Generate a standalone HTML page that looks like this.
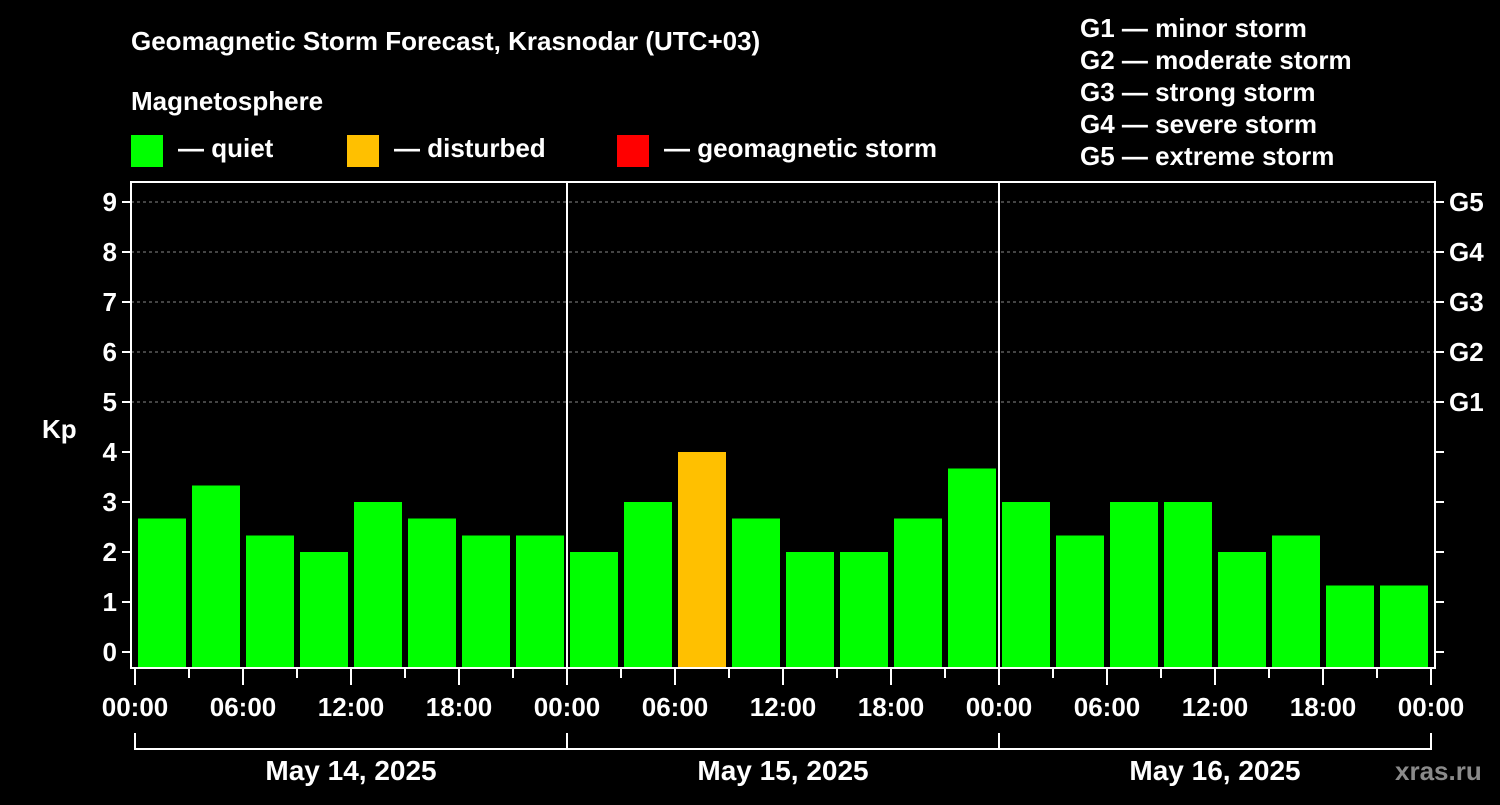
<!DOCTYPE html>
<html><head><meta charset="utf-8"><style>
body{margin:0;background:#000;width:1500px;height:800px;overflow:hidden}
svg text{font-family:"Liberation Sans",Arial,sans-serif;font-weight:bold;fill:#fff}
</style></head><body>
<svg id="chart" width="1500" height="800" xmlns="http://www.w3.org/2000/svg">
<text x="131" y="50" font-size="26">Geomagnetic Storm Forecast, Krasnodar (UTC+03)</text>
<text x="131" y="110" font-size="26">Magnetosphere</text>
<g><rect x="131" y="135" width="32" height="32" fill="#00ff00"/><text x="178" y="157" font-size="26">— quiet</text></g>
<g><rect x="347" y="135" width="32" height="32" fill="#ffc000"/><text x="394" y="157" font-size="26">— disturbed</text></g>
<g><rect x="617" y="135" width="32" height="32" fill="#ff0000"/><text x="664" y="157" font-size="26">— geomagnetic storm</text></g>
<g font-size="26">
<text x="1080" y="37">G1 — minor storm</text>
<text x="1080" y="69">G2 — moderate storm</text>
<text x="1080" y="101">G3 — strong storm</text>
<text x="1080" y="133">G4 — severe storm</text>
<text x="1080" y="165">G5 — extreme storm</text>
</g>
<text x="42" y="438" font-size="26">Kp</text>
<text x="1395" y="780" font-size="26" fill="#888" style="fill:#8a8a8a">xras.ru</text>
<g id="grid"></g><g id="bars"></g><g id="axes"></g>
</svg>
<script>
const values = [2.67,3.33,2.33,2,3,2.67,2.33,2.33, 2,3,4,2.67,2,2,2.67,3.67, 3,2.33,3,3,2,2.33,1.33,1.33];
const days = ["May 14, 2025","May 15, 2025","May 16, 2025"];
const hourLabels = ["00:00","06:00","12:00","18:00"];
const kpTicks = [0,1,2,3,4,5,6,7,8,9];
const gLabels = ["G1","G2","G3","G4","G5"];
const NS="http://www.w3.org/2000/svg";
const X0=135, HOUR=18, Y0=652, UNIT=50, LEFT=131, RIGHT=1435, TOP=182, BOT=668;
const xs=h=>X0+h*HOUR, ys=v=>Y0-v*UNIT;
function mk(tag,attrs,parent){const e=document.createElementNS(NS,tag);for(const k in attrs)e.setAttribute(k,attrs[k]);parent.appendChild(e);return e;}
const grid=document.getElementById('grid'), bars=document.getElementById('bars'), axes=document.getElementById('axes');
for(let v=5;v<=9;v++){const l=mk('line',{x1:LEFT,x2:RIGHT,y1:ys(v),y2:ys(v),stroke:'#888','stroke-dasharray':'3,3','stroke-width':1},grid);

}
values.forEach((v,i)=>{const c=v>=5?'#ff0000':(v>=4?'#ffc000':'#00ff00');
const r=mk('rect',{x:xs(i*3)+3,width:48,y:ys(v),height:BOT-ys(v),fill:c},bars);

});
const fr=mk('rect',{x:LEFT,y:TOP,width:RIGHT-LEFT,height:BOT-TOP,fill:'none',stroke:'#fff','stroke-width':2},axes);


for(let d=1;d<days.length;d++){const l=mk('line',{x1:xs(d*24),x2:xs(d*24),y1:TOP,y2:BOT,stroke:'#fff','stroke-width':2},axes);

}
kpTicks.forEach(v=>{mk('line',{x1:LEFT-9,x2:LEFT,y1:ys(v),y2:ys(v),stroke:'#fff','stroke-width':2},axes);
mk('line',{x1:RIGHT,x2:RIGHT+9,y1:ys(v),y2:ys(v),stroke:'#fff','stroke-width':2},axes);
const t=mk('text',{x:LEFT-14,y:ys(v)+9,'font-size':26,'text-anchor':'end'},axes);t.textContent=v;

});
gLabels.forEach((g,i)=>{const t=mk('text',{x:RIGHT+14,y:ys(5+i)+9,'font-size':26},axes);t.textContent=g;

});
for(let h=0;h<=days.length*24;h+=3){const major=h%6===0;
mk('line',{x1:xs(h),x2:xs(h),y1:BOT,y2:BOT+(major?17:10),stroke:'#fff','stroke-width':2},axes);
if(major){const t=mk('text',{x:xs(h),y:716,'font-size':26,'text-anchor':'middle'},axes);t.textContent=hourLabels[(h/6)%4];

}}
days.forEach((d,i)=>{const a=xs(i*24),b=xs((i+1)*24);
mk('path',{d:`M${a},733V749H${b}V733`,stroke:'#fff','stroke-width':2,fill:'none'},axes);
const t=mk('text',{x:(a+b)/2,y:780,'font-size':28,'text-anchor':'middle'},axes);t.textContent=d;

});
</script>
</body></html>
